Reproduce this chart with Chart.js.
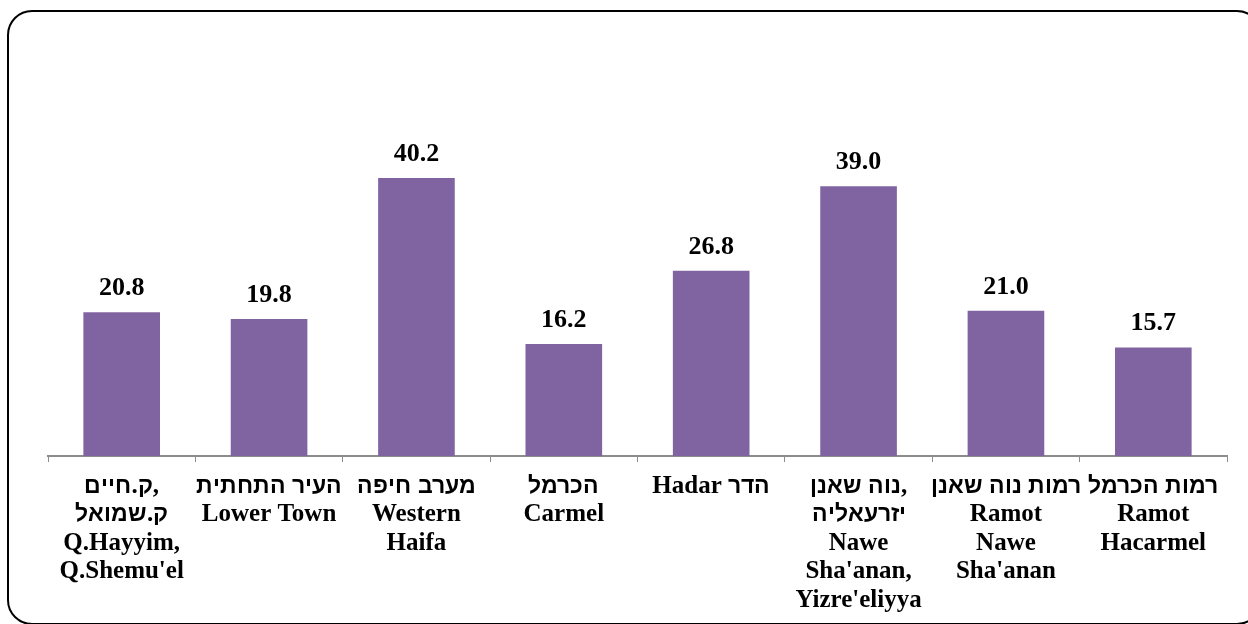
<!DOCTYPE html>
<html>
<head>
<meta charset="utf-8">
<script src="https://cdn.jsdelivr.net/npm/chart.js@4"></script>
<style>
  /* Hebrew glyphs come from a bold sans, Latin stays Times-like */
  @font-face {
    font-family: 'LblHeb';
    src: local('Liberation Sans Bold'), local('LiberationSans-Bold'), local('DejaVu Sans Bold'), local('DejaVuSans-Bold');
    unicode-range: U+0590-05FF;
    font-weight: bold;
    size-adjust: 92%;
  }
  html, body { margin: 0; padding: 0; background: #fff; }
  #wrap { position: relative; width: 1248px; height: 624px; overflow: hidden; }
  #frame {
    position: absolute; left: 7px; top: 10px; width: 1255px; height: 615px;
    border: 2px solid #000; border-radius: 25px; box-sizing: border-box;
  }
  #chart { position: absolute; left: 0; top: 0; }
</style>
</head>
<body>
<div id="wrap">
  <div id="frame"></div>
  <canvas id="chart" width="1248" height="624"></canvas>
</div>
<script>
const categories = [
  ['ק.חיים,', 'ק.שמואל', 'Q.Hayyim,', "Q.Shemu'el"],
  ['העיר התחתית', 'Lower Town'],
  ['מערב חיפה', 'Western', 'Haifa'],
  ['הכרמל', 'Carmel'],
  ['Hadar הדר'],
  ['נוה שאנן,', 'יזרעאליה', 'Nawe', "Sha'anan,", "Yizre'eliyya"],
  ['רמות נוה שאנן', 'Ramot', 'Nawe', "Sha'anan"],
  ['רמות הכרמל', 'Ramot', 'Hacarmel'],
];
const values = [20.8, 19.8, 40.2, 16.2, 26.8, 39.0, 21.0, 15.7];

const barColor = '#8064A2';
const fontFamily = "LblHeb, 'Liberation Serif', 'Times New Roman', serif";
const labelFont = { family: fontFamily, size: 25, weight: 'bold', lineHeight: 1.14 };

const valueLabels = {
  id: 'valueLabels',
  afterDatasetsDraw(chart) {
    const ctx = chart.ctx;
    const meta = chart.getDatasetMeta(0);
    ctx.save();
    ctx.fillStyle = '#000';
    ctx.font = 'bold 26px ' + fontFamily;
    ctx.textAlign = 'center';
    ctx.textBaseline = 'alphabetic';
    meta.data.forEach((bar, i) => {
      ctx.fillText(values[i].toFixed(1), bar.x, bar.y - 17);
    });
    ctx.restore();
  },
};

function draw() {
  new Chart(document.getElementById('chart').getContext('2d'), {
    type: 'bar',
    data: {
      labels: categories,
      datasets: [{
        data: values,
        backgroundColor: barColor,
        borderWidth: 0,
        barPercentage: 0.52,
        categoryPercentage: 1,
      }],
    },
    options: {
      responsive: false,
      animation: false,
      events: [],
      layout: { padding: { left: 48, right: 21, top: 41, bottom: 0 } },
      plugins: { legend: { display: false }, tooltip: { enabled: false } },
      scales: {
        y: { display: false, min: 0, max: 60 },
        x: {
          afterFit(scale) { scale.height = 624 - 456; },
          border: { display: true, color: '#8c8c8c', width: 2 },
          grid: { display: true, drawOnChartArea: false, tickLength: 6, color: '#8c8c8c', lineWidth: 1, offset: true },
          ticks: { color: '#000', font: labelFont, padding: 10, maxRotation: 0, autoSkip: false },
        },
      },
    },
    plugins: [valueLabels],
  });
}

document.fonts.load('bold 25px LblHeb', 'א').then(draw, draw);
</script>
</body>
</html>
